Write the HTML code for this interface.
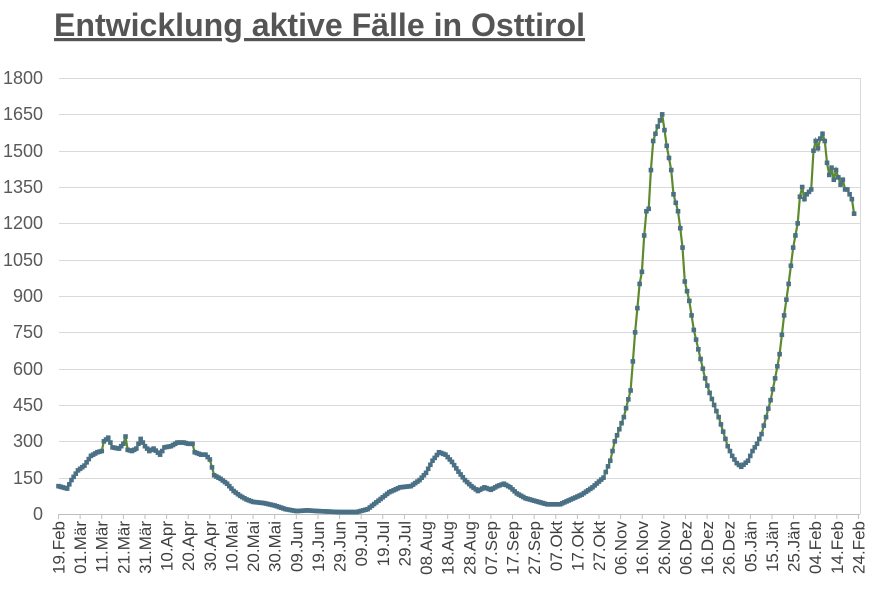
<!DOCTYPE html>
<html><head><meta charset="utf-8"><style>
body{margin:0;background:#fff;width:871px;height:589px;overflow:hidden;font-family:"Liberation Sans",sans-serif}
</style></head><body>
<svg id="c" width="871" height="589" xmlns="http://www.w3.org/2000/svg" font-family="Liberation Sans, sans-serif">
<text x="54" y="36" font-size="32" font-weight="bold" fill="#555" text-decoration="underline" textLength="531" lengthAdjust="spacingAndGlyphs">Entwicklung aktive Fälle in Osttirol</text>
<g stroke="#d9d9d9" stroke-width="1">
<line x1="59" x2="860" y1="78.5" y2="78.5"/><line x1="59" x2="860" y1="114.5" y2="114.5"/><line x1="59" x2="860" y1="151.5" y2="151.5"/><line x1="59" x2="860" y1="187.5" y2="187.5"/><line x1="59" x2="860" y1="223.5" y2="223.5"/><line x1="59" x2="860" y1="260.5" y2="260.5"/><line x1="59" x2="860" y1="296.5" y2="296.5"/><line x1="59" x2="860" y1="332.5" y2="332.5"/><line x1="59" x2="860" y1="369.5" y2="369.5"/><line x1="59" x2="860" y1="405.5" y2="405.5"/><line x1="59" x2="860" y1="441.5" y2="441.5"/><line x1="59" x2="860" y1="478.5" y2="478.5"/>
<line x1="860.5" x2="860.5" y1="78" y2="514"/>
</g>
<line x1="58" x2="860" y1="514.5" y2="514.5" stroke="#bfbfbf"/>
<g font-size="18" fill="#595959" text-anchor="end">
<text x="43" y="84">1800</text><text x="43" y="120">1650</text><text x="43" y="157">1500</text><text x="43" y="193">1350</text><text x="43" y="229">1200</text><text x="43" y="266">1050</text><text x="43" y="302">900</text><text x="43" y="338">750</text><text x="43" y="375">600</text><text x="43" y="411">450</text><text x="43" y="447">300</text><text x="43" y="484">150</text><text x="43" y="520">0</text>
</g>
<g id="xl" font-size="17" fill="#404040" text-anchor="end"></g>
<g id="s"></g>
</svg>
<script>
var labels=["19.Feb","01.Mär","11.Mär","21.Mär","31.Mär","10.Apr","20.Apr","30.Apr","10.Mai","20.Mai","30.Mai","09.Jun","19.Jun","29.Jun","09.Jul","19.Jul","29.Jul","08.Aug","18.Aug","28.Aug","07.Sep","17.Sep","27.Sep","07.Okt","17.Okt","27.Okt","06.Nov","16.Nov","26.Nov","06.Dez","16.Dez","26.Dez","05.Jän","15.Jän","25.Jän","04.Feb","14.Feb","24.Feb"];
var NS="http://www.w3.org/2000/svg",xl=document.getElementById("xl");
function X(d){return 58.5+d*2.162;}
labels.forEach(function(l,i){var x=X(i*10);
var t=document.createElementNS(NS,"text");t.setAttribute("transform","translate("+(x+6)+",521) rotate(-90)");t.textContent=l;xl.appendChild(t);
var k=document.createElementNS(NS,"line");k.setAttribute("x1",x);k.setAttribute("x2",x);k.setAttribute("y1",514);k.setAttribute("y2",519);k.setAttribute("stroke","#bfbfbf");xl.appendChild(k);});
var kp=[[0,115],[4,105],[6,140],[9,180],[12,200],[15,240],[18,255],[20,260],[21,300],[23,315],[25,275],[28,270],[30,290],[31,320],[32,265],[34,260],[36,270],[38,310],[40,280],[42,260],[44,270],[47,245],[49,275],[52,280],[55,295],[58,295],[60,290],[62,290],[63,255],[66,245],[68,245],[70,225],[72,160],[75,145],[78,125],[81,95],[84,75],[87,60],[90,50],[95,45],[100,35],[105,20],[110,12],[115,15],[120,12],[130,8],[138,8],[143,20],[148,55],[153,90],[158,110],[163,115],[167,140],[170,170],[173,220],[176,255],[179,245],[182,215],[185,175],[188,140],[191,115],[194,95],[197,110],[200,100],[203,115],[206,125],[209,110],[212,85],[216,65],[220,55],[226,40],[232,40],[237,60],[242,80],[247,110],[252,150],[255,220],[257,300],[261,400],[264,510],[266,750],[268,950],[269,1000],[270,1150],[271,1250],[272,1260],[273,1420],[274,1540],[276,1600],[278,1650],[280,1520],[282,1420],[283,1320],[285,1250],[286,1180],[287,1100],[288,960],[290,880],[292,760],[295,640],[297,560],[299,500],[301,450],[303,400],[305,340],[307,280],[309,240],[311,210],[313,195],[316,220],[318,260],[320,290],[322,330],[324,400],[326,470],[328,560],[330,660],[332,820],[334,950],[336,1100],[338,1200],[339,1310],[340,1350],[341,1300],[342,1320],[344,1340],[345,1500],[346,1540],[347,1510],[348,1550],[349,1570],[350,1540],[351,1450],[352,1400],[353,1430],[354,1380],[355,1420],[356,1390],[357,1360],[358,1380],[359,1340],[360,1340],[361,1320],[362,1300],[363,1240]];
function V(d){for(var i=0;i<kp.length-1;i++){if(d>=kp[i][0]&&d<=kp[i+1][0]){var a=kp[i],b=kp[i+1];return a[1]+(b[1]-a[1])*(d-a[0])/(b[0]-a[0]);}}return kp[kp.length-1][1];}
function Y(v){return 514-v*0.2422;}
var pts=[],s=document.getElementById("s");
for(var d=0;d<=363;d++){var dx=d<=250?d:250+(d-250)*(118/113);pts.push([X(dx),Y(V(d))]);}
var p=document.createElementNS(NS,"polyline");p.setAttribute("points",pts.map(function(q){return q[0].toFixed(1)+","+q[1].toFixed(1)}).join(" "));p.setAttribute("fill","none");p.setAttribute("stroke","#5e8a2c");p.setAttribute("stroke-width","2.2");s.appendChild(p);
pts.forEach(function(q){var r=document.createElementNS(NS,"rect");r.setAttribute("x",q[0]-2.3);r.setAttribute("y",q[1]-2.3);r.setAttribute("width",4.6);r.setAttribute("height",4.6);r.setAttribute("fill","#4a7086");s.appendChild(r);});
</script>
</body></html>
